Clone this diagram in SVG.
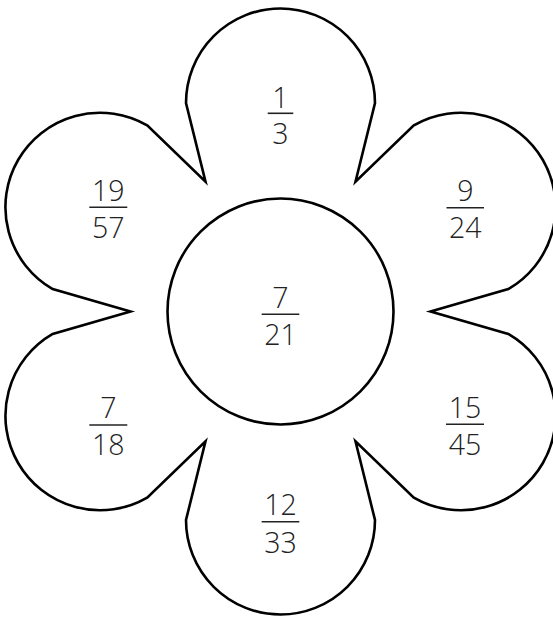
<svg xmlns="http://www.w3.org/2000/svg" width="553" height="617" viewBox="0 0 553 617">
<style>
.outline{fill:#fff;stroke:#000;stroke-width:2.6;stroke-linejoin:miter;stroke-miterlimit:20}
.t{font-family:"Open Sans","Noto Sans","Liberation Sans",sans-serif;font-size:28.5px;font-weight:300;fill:#222;text-anchor:middle}
.bar{stroke:#222;stroke-width:1.6}
</style>
<rect width="553" height="617" fill="#fff"/>
<g id="flower">
<path class="outline" d="M205.5,181.6 L186,103 A94.5,94.5 0 1 1 375,103 L355.5,181.6 L413.81,125.41 A94.5,94.5 0 1 1 508.31,289.09 L430.5,311.5 L508.31,333.91 A94.5,94.5 0 1 1 413.81,497.59 L355.5,441.4 L375,520 A94.5,94.5 0 1 1 186,520 L205.5,441.4 L147.19,497.59 A94.5,94.5 0 1 1 52.69,333.91 L130.5,311.5 L52.69,289.09 A94.5,94.5 0 1 1 147.19,125.41 Z"/>
</g>
<g id="center">
<circle class="outline" cx="280.5" cy="311.5" r="113"/>
<text class="t" x="280.5" y="308.3">7</text>
<line class="bar" x1="261.7" y1="314.3" x2="299.3" y2="314.3"/>
<text class="t" x="280.5" y="345">21</text>
</g>
<g id="petal-top">
<text class="t" x="280.5" y="107.5">1</text>
<line class="bar" x1="267.7" y1="113.3" x2="293.3" y2="113.3"/>
<text class="t" x="280.5" y="144">3</text>
</g>
<g id="petal-upper-right">
<text class="t" x="465.3" y="201">9</text>
<line class="bar" x1="446.5" y1="207.7" x2="484" y2="207.7"/>
<text class="t" x="465.3" y="237.7">24</text>
</g>
<g id="petal-lower-right">
<text class="t" x="465" y="418">15</text>
<line class="bar" x1="446" y1="424.3" x2="484" y2="424.3"/>
<text class="t" x="465" y="455">45</text>
</g>
<g id="petal-bottom">
<text class="t" x="280.5" y="515">12</text>
<line class="bar" x1="261.7" y1="521.7" x2="299.3" y2="521.7"/>
<text class="t" x="280.5" y="553.3">33</text>
</g>
<g id="petal-lower-left">
<text class="t" x="108.3" y="417.7">7</text>
<line class="bar" x1="89.3" y1="425" x2="127.3" y2="425"/>
<text class="t" x="108.3" y="455">18</text>
</g>
<g id="petal-upper-left">
<text class="t" x="108.3" y="201">19</text>
<line class="bar" x1="89.3" y1="207.3" x2="127.3" y2="207.3"/>
<text class="t" x="108.3" y="237.7">57</text>
</g>
</svg>
